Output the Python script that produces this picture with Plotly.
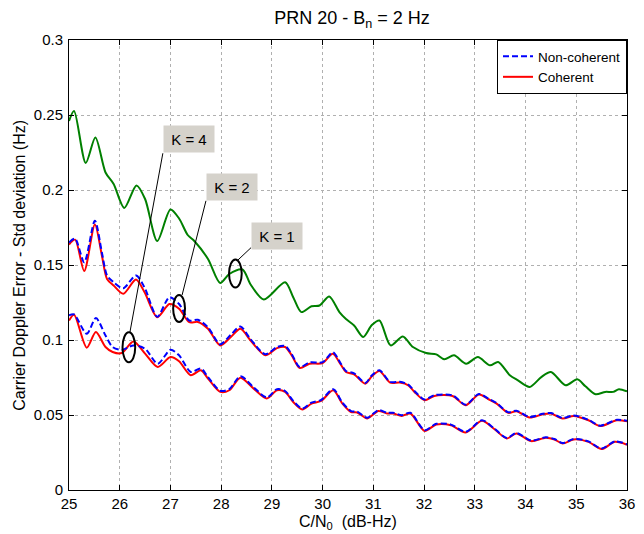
import plotly.graph_objects as go

# ---------------- data ----------------
k1_x = [25.0, 25.10, 25.33, 25.52, 25.72, 25.88, 26.09, 26.33, 26.5, 26.74, 27.0, 27.17, 27.34, 27.47,
        27.74, 27.98, 28.16, 28.42, 28.58, 28.84, 29.26, 29.42, 29.58, 29.78, 29.94, 30.13, 30.33, 30.46,
        30.62, 30.80, 30.97, 31.12, 31.34, 31.58, 31.78, 32.04, 32.24, 32.40, 32.59, 32.83, 33.06, 33.30,
        33.46, 33.69, 33.85, 34.08, 34.31, 34.50, 34.79, 35.02, 35.18, 35.38, 35.57, 35.73, 35.84, 36.0]
k1_y = [0.246, 0.2527, 0.218, 0.235, 0.2117, 0.204, 0.188, 0.203, 0.194, 0.166, 0.187, 0.181, 0.170, 0.166,
        0.154, 0.138, 0.144, 0.147, 0.137, 0.127, 0.1385, 0.1285, 0.1186, 0.1225, 0.123, 0.129, 0.1186, 0.114,
        0.1097, 0.102, 0.110, 0.113, 0.0964, 0.1024, 0.0953, 0.0913, 0.0904, 0.0871, 0.0898, 0.0842, 0.0886, 0.0831,
        0.0853, 0.0765, 0.0731, 0.0687, 0.0753, 0.0787, 0.0698, 0.0738, 0.0691, 0.0638, 0.0654, 0.0654, 0.0672, 0.0658]

k2_x = [25.0, 25.12, 25.30, 25.51, 25.65, 25.75, 25.88, 26.07, 26.32, 26.49, 26.74, 26.98, 27.17, 27.37,
        27.54, 27.74, 27.98, 28.19, 28.38, 28.58, 28.87, 29.10, 29.26, 29.39, 29.55, 29.74, 30.0, 30.2, 30.36,
        30.46, 30.62, 30.84, 30.97, 31.12, 31.33, 31.52, 31.69, 31.81, 32.01, 32.20, 32.56, 32.82, 33.08,
        33.27, 33.43, 33.66, 33.82, 34.08, 34.34, 34.50, 34.73, 34.95, 35.24, 35.47, 35.80, 36.0]
k2_coh = [0.1636, 0.1669, 0.146, 0.177, 0.156, 0.1407, 0.1363, 0.1308, 0.1403, 0.1318, 0.1152, 0.124, 0.1208, 0.1119,
          0.112, 0.1075, 0.0964, 0.102, 0.1075, 0.0997, 0.0898, 0.0946, 0.0953, 0.0898, 0.0813, 0.0842, 0.0846, 0.0909, 0.0835,
          0.0787, 0.0771, 0.0709, 0.0758, 0.0793, 0.0716, 0.0716, 0.0698, 0.0654, 0.0598, 0.0627, 0.0627, 0.0565, 0.0636,
          0.0605, 0.0576, 0.0514, 0.0525, 0.0483, 0.0505, 0.051, 0.0477, 0.0494, 0.0465, 0.0426, 0.0465, 0.0458]
k2_ncoh = [0.165, 0.1675, 0.1518, 0.1795, 0.158, 0.143, 0.1385, 0.1345, 0.143, 0.135, 0.1155, 0.1285, 0.124, 0.113,
           0.1135, 0.1085, 0.0972, 0.1035, 0.109, 0.1005, 0.0905, 0.0953, 0.096, 0.0905, 0.082, 0.085, 0.0852, 0.0918, 0.0842,
           0.0793, 0.0778, 0.0714, 0.0764, 0.0798, 0.0721, 0.0721, 0.0703, 0.066, 0.0603, 0.0632, 0.0631, 0.0569, 0.064,
           0.0609, 0.058, 0.0518, 0.0529, 0.0487, 0.0508, 0.0513, 0.048, 0.0497, 0.0468, 0.0429, 0.0468, 0.0461]

k4_x = [25.0, 25.1, 25.35, 25.53, 25.72, 25.86, 26.04, 26.27, 26.50, 26.75, 27.0, 27.17, 27.40, 27.60,
        27.74, 27.98, 28.16, 28.38, 28.64, 28.90, 29.10, 29.26, 29.42, 29.60, 29.78, 29.97, 30.21, 30.39,
        30.56, 30.68, 30.88, 31.1, 31.27, 31.39, 31.56, 31.73, 32.01, 32.24, 32.53, 32.82, 33.14, 33.37,
        33.63, 33.82, 34.11, 34.40, 34.57, 34.73, 34.95, 35.24, 35.50, 35.76, 36.0]
k4_coh = [0.113, 0.1168, 0.0949, 0.1053, 0.0953, 0.092, 0.0913, 0.099, 0.0909, 0.082, 0.0886, 0.0858, 0.0765, 0.0798,
          0.0743, 0.0654, 0.0665, 0.0749, 0.0676, 0.061, 0.0665, 0.0654, 0.0587, 0.0537, 0.0576, 0.0594, 0.0665, 0.0576,
          0.052, 0.0517, 0.0477, 0.0527, 0.051, 0.051, 0.0494, 0.051, 0.0394, 0.0437, 0.0432, 0.0384, 0.0461, 0.041,
          0.0344, 0.0377, 0.0326, 0.0348, 0.0337, 0.031, 0.0337, 0.0321, 0.0273, 0.0321, 0.0302]
k4_ncoh = [0.1164, 0.117, 0.1042, 0.1146, 0.103, 0.0953, 0.0935, 0.0964, 0.0942, 0.0842, 0.0935, 0.0898, 0.0787, 0.081,
           0.0752, 0.0662, 0.0673, 0.0758, 0.0684, 0.0617, 0.0672, 0.066, 0.0594, 0.0543, 0.0582, 0.06, 0.0672, 0.0582,
           0.0526, 0.0523, 0.0482, 0.0532, 0.0515, 0.0515, 0.0499, 0.0515, 0.0399, 0.0441, 0.0436, 0.0388, 0.0465, 0.0414,
           0.0347, 0.038, 0.0329, 0.0351, 0.034, 0.0313, 0.034, 0.0324, 0.0276, 0.0324, 0.0305]

x_ticks = [25, 26, 27, 28, 29, 30, 31, 32, 33, 34, 35, 36]
y_ticks = [0, 0.05, 0.1, 0.15, 0.2, 0.25, 0.3]
y_tick_labels = ["0", "0.05", "0.1", "0.15", "0.2", "0.25", "0.3"]

labels = ["K = 4", "K = 2", "K = 1"]
box_x = [27.37, 28.21, 29.11]
box_y = [0.2337, 0.2018, 0.1692]
ell_x = [26.18, 27.17, 28.28]
ell_y = [0.0951, 0.121, 0.1443]
ell_hw = [0.125, 0.117, 0.125]
ell_hh = [0.0100, 0.0090, 0.0093]
ln_x0 = [26.85, 27.70, 28.59]
ln_y0 = [0.2245, 0.1928, 0.1616]
ln_x1 = [26.20, 27.23, 28.32]
ln_y1 = [0.1050, 0.1300, 0.1530]

FONT = "Liberation Sans, Arial, Helvetica, sans-serif"
# the page body has an 8px margin: the figure is sized so the page is 644x534 overall
PAGE_OFF = 8
W, H = 644 - PAGE_OFF, 534 - PAGE_OFF
L, R, T, B = 69 - PAGE_OFF, 9, 40 - PAGE_OFF, 44
PW, PH = W - L - R, H - T - B

fig = go.Figure()
spl = dict(shape="spline", smoothing=0.8)

fig.add_trace(go.Scatter(x=k1_x, y=k1_y, mode="lines", line=dict(color="#008000", width=2, **spl),
                         showlegend=False, hoverinfo="skip"))
fig.add_trace(go.Scatter(x=k2_x, y=k2_coh, mode="lines", name="Coherent", legendgroup="c", legendrank=2,
                         line=dict(color="#ff0000", width=2, **spl)))
fig.add_trace(go.Scatter(x=k4_x, y=k4_coh, mode="lines", name="Coherent", legendgroup="c", showlegend=False,
                         line=dict(color="#ff0000", width=2, **spl)))
fig.add_trace(go.Scatter(x=k2_x, y=k2_ncoh, mode="lines", name="Non-coherent", legendgroup="n", legendrank=1,
                         line=dict(color="#0000ff", width=2, dash="6px,3px", **spl)))
fig.add_trace(go.Scatter(x=k4_x, y=k4_ncoh, mode="lines", name="Non-coherent", legendgroup="n", showlegend=False,
                         line=dict(color="#0000ff", width=2, dash="6px,3px", **spl)))

shapes = []
annotations = []
for i, t in enumerate(labels):
    shapes.append(dict(type="circle", xref="x", yref="y",
                       x0=ell_x[i] - ell_hw[i], x1=ell_x[i] + ell_hw[i],
                       y0=ell_y[i] - ell_hh[i], y1=ell_y[i] + ell_hh[i],
                       line=dict(color="black", width=2)))
    shapes.append(dict(type="line", xref="x", yref="y", x0=ln_x0[i], y0=ln_y0[i], x1=ln_x1[i], y1=ln_y1[i],
                       line=dict(color="black", width=1)))
    annotations.append(dict(x=box_x[i], y=box_y[i], xref="x", yref="y", text=t, showarrow=False,
                            bgcolor="#d5d2cb", width=48, height=24, borderpad=1,
                            font=dict(family=FONT, size=15, color="black")))

annotations.append(dict(x=0.5, y=-32 / PH, xref="paper", yref="paper", text="C/N<sub>0</sub>  (dB-Hz)",
                        showarrow=False, yanchor="middle", font=dict(family=FONT, size=16, color="black")))
annotations.append(dict(x=-51 / PW, y=0.5, xref="paper", yref="paper",
                        text="Carrier Doppler Error - Std deviation (Hz)", textangle=-90,
                        showarrow=False, xanchor="center", font=dict(family=FONT, size=16, color="black")))

axis_common = dict(showline=True, linecolor="black", linewidth=1, mirror="ticks", ticks="inside", ticklen=5,
                   tickcolor="black", showgrid=True, gridcolor="#b0b0b0", griddash="dot", gridwidth=1,
                   zeroline=False, tickfont=dict(family=FONT, size=15, color="black"))

fig.update_layout(
    width=W, height=H,
    margin=dict(l=L, r=R, t=T, b=B),
    paper_bgcolor="white", plot_bgcolor="white",
    title=dict(text="PRN 20 - B<sub>n</sub> = 2 Hz", x=(352 - PAGE_OFF) / W, xanchor="center",
               y=1 - (18 - PAGE_OFF) / H, yanchor="middle",
               font=dict(family=FONT, size=18, color="black")),
    xaxis=dict(range=[25, 36], tickvals=x_ticks, **axis_common),
    yaxis=dict(range=[0, 0.3], tickvals=y_ticks, ticktext=y_tick_labels, ticklabelstandoff=2, **axis_common),
    legend=dict(x=1, y=1, xanchor="right", yanchor="top", bgcolor="white", bordercolor="black", borderwidth=1,
                font=dict(family=FONT, size=13.5, color="black"), tracegroupgap=0, itemwidth=30),
    shapes=shapes, annotations=annotations, showlegend=True,
)

fig.write_html("out.html")
